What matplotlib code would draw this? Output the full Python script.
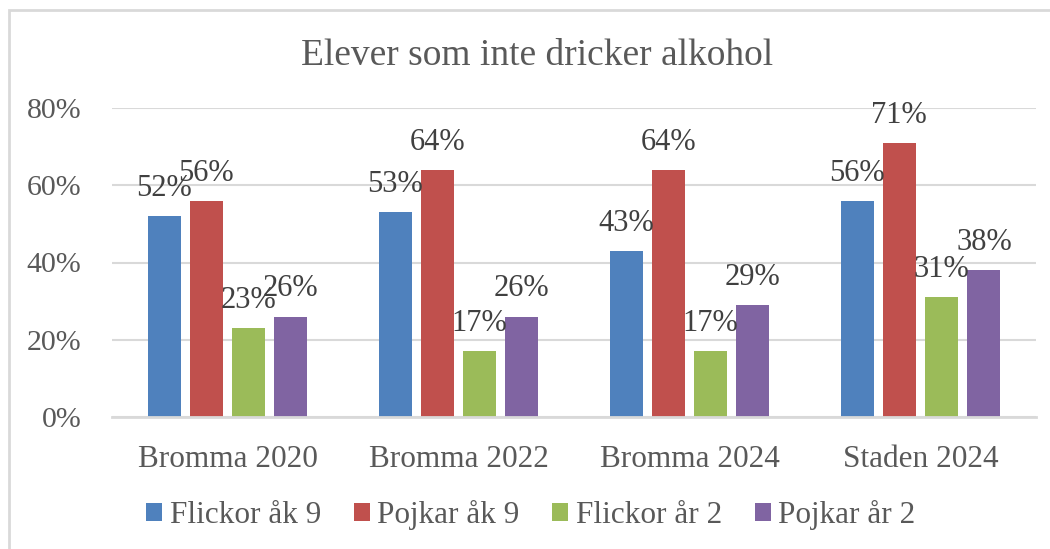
import matplotlib.pyplot as plt
import numpy as np
from matplotlib.patches import Rectangle

plt.rcParams['font.family'] = ['Liberation Serif', 'DejaVu Serif']

categories = ['Bromma 2020', 'Bromma 2022', 'Bromma 2024', 'Staden 2024']
series = ['Flickor åk 9', 'Pojkar åk 9', 'Flickor år 2', 'Pojkar år 2']
flickor_ak9 = [52, 53, 43, 56]
pojkar_ak9 = [56, 64, 64, 71]
flickor_ar2 = [23, 17, 17, 31]
pojkar_ar2 = [26, 26, 29, 38]
colors = ['#4F81BD', '#C0504D', '#9BBB59', '#8064A2']

values = [flickor_ak9, pojkar_ak9, flickor_ar2, pojkar_ar2]
txt = '#595959'

fig = plt.figure(figsize=(10.5, 5.49), dpi=100)
# chart border (light gray, runs off right/bottom like the reference)
fig.patches.append(Rectangle((9 / 1050, -0.05), 1.2, 1 - 10 / 549 + 0.05,
                             transform=fig.transFigure, fill=False,
                             edgecolor='#D9D9D9', lw=2))

ax = fig.add_axes([112 / 1050, 1 - 417 / 549, (1036 - 112) / 1050, (417 - 108) / 549])

x = np.arange(len(categories))
step, width = 0.183, 0.143
handles = []
for i, (vals, c) in enumerate(zip(values, colors)):
    pos = x + (i - 1.5) * step
    b = ax.bar(pos, np.array(vals) / 100, width, color=c, label=series[i], zorder=3)
    handles.append(b)
    for p, v in zip(pos, vals):
        ax.annotate(f'{v}%', (p, v / 100), xytext=(0, 9.5), textcoords='offset points',
                    ha='center', va='bottom', fontsize=22, color='#404040', zorder=4)

ax.set_xlim(-0.5, 3.5)
ax.set_ylim(0, 0.8)
ax.set_yticks([0, 0.2, 0.4, 0.6, 0.8])
ax.set_yticklabels(['0%', '20%', '40%', '60%', '80%'])
ax.set_xticks(x)
ax.set_xticklabels(categories)
ax.tick_params(axis='y', length=0, pad=22, labelsize=21.5, labelcolor=txt)
ax.tick_params(axis='x', length=0, pad=20, labelsize=22.5, labelcolor=txt)
ax.grid(axis='y', color='#D9D9D9', lw=1.5, zorder=0)
for s in ['top', 'right', 'left']:
    ax.spines[s].set_visible(False)
ax.spines['bottom'].set_color('#D9D9D9')
ax.spines['bottom'].set_linewidth(2)
ax.spines['bottom'].set_zorder(3.5)

fig.text(537 / 1050, 1 - 56 / 549, 'Elever som inte dricker alkohol', ha='center', va='center',
         fontsize=27, color=txt)

leg = fig.legend(handles=handles, labels=series, loc='center', bbox_to_anchor=(531 / 1050, 1 - 515 / 549),
                 ncol=4, frameon=False, fontsize=22.5, handlelength=0.5, handleheight=0.5,
                 handletextpad=0.25, columnspacing=1.05, borderaxespad=0)
for t in leg.get_texts():
    t.set_color(txt)

plt.savefig('out.png', dpi=100)
